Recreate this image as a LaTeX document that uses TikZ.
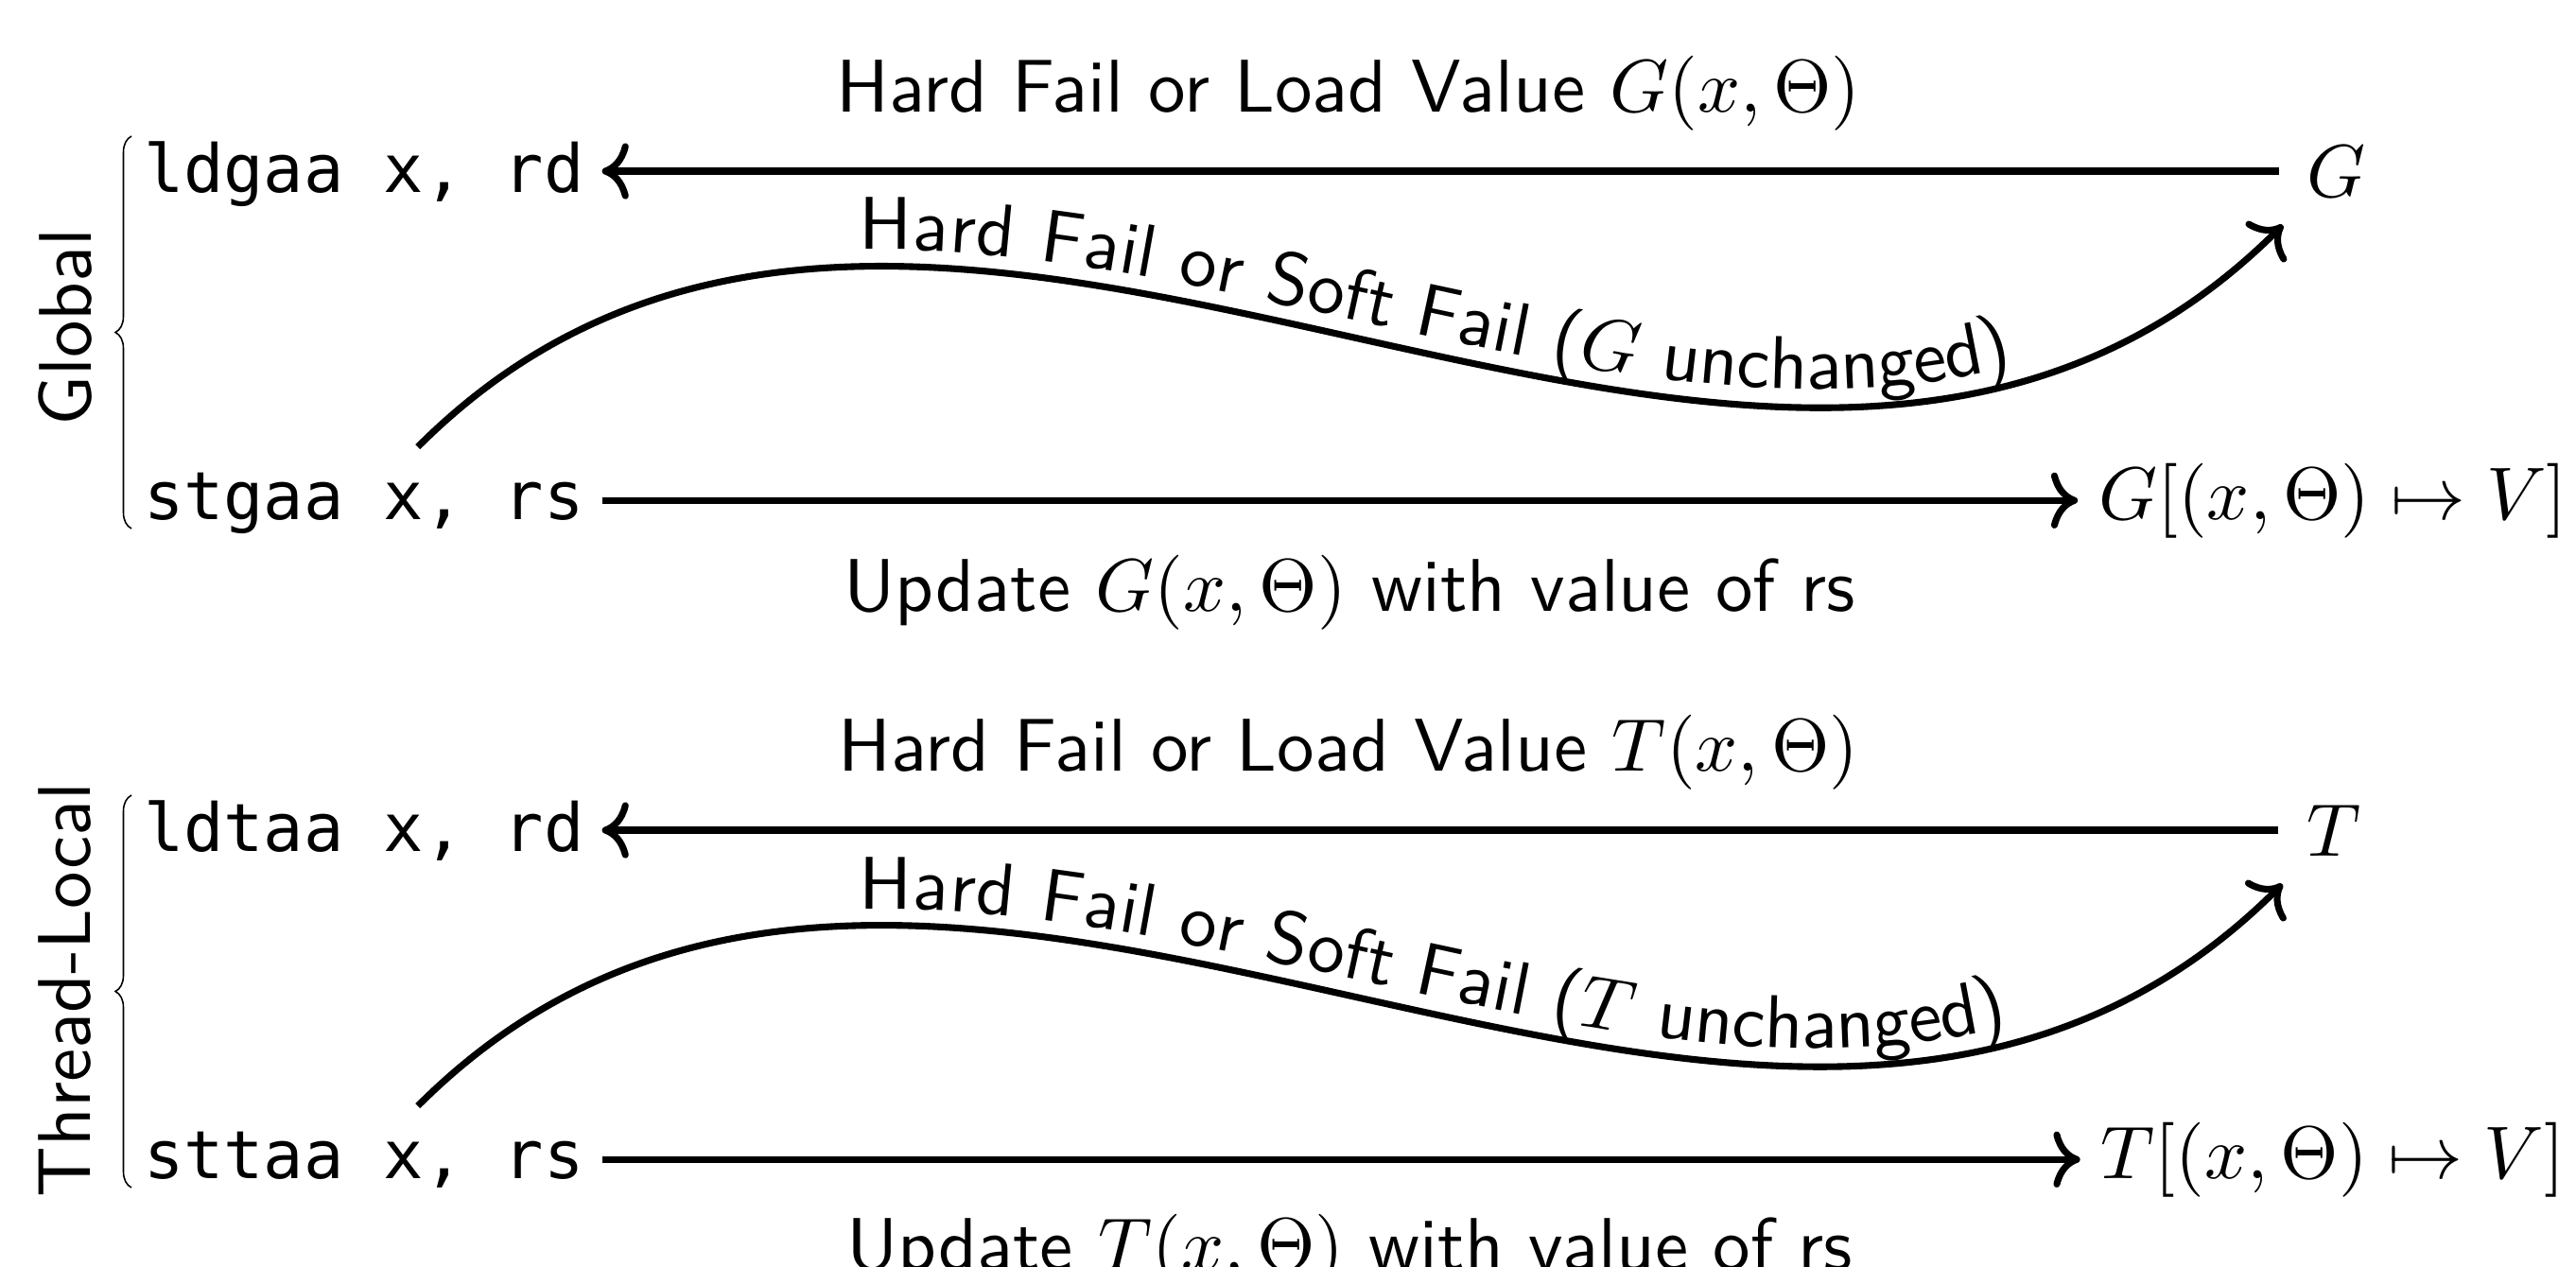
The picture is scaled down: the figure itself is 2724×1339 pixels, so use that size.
\documentclass[tikz,border=0pt]{standalone}
\usepackage{fontspec}
\renewcommand{\familydefault}{\sfdefault}
\newfontfamily\codefont{DejaVu Sans Mono}[Scale=0.89]
\usetikzlibrary{arrows.meta,calc,decorations.text,decorations.pathreplacing}
\begin{document}
\begin{tikzpicture}[x=0.1266pt,y=-0.1266pt,
  every node/.style={inner sep=0pt,outer sep=0pt},
  code/.style={font=\codefont},
  arr/.style={line width=0.9pt,-{Computer Modern Rightarrow}},
  bracestyle/.style={line width=0.2pt,decorate,decoration={brace,amplitude=2.15pt}},
  curvelabel/.style={decorate,decoration={text along path,text={#1},text align={left indent=65.5pt},raise=2.2pt}}]
\useasboundingbox (0,0) rectangle (2724,1339);
% ---------------- Global block
\node[anchor=base] (lbl1) at (1426,118) {Hard Fail or Load Value $G(x,\Theta)$};
\node[code,anchor=base west] (ldg) at (152,203) {ldgaa x, rd};
\node[anchor=base] (G) at (2471,208) {$G$};
\node[code,anchor=base west] (stg) at (152,549) {stgaa x, rs};
\node[anchor=base] (Gu) at (2467,549) {$G[(x,\Theta)\mapsto V]$};
\node[anchor=base] (upd1) at (1427,646) {Update $G(x,\Theta)$ with value of rs};
\node[rotate=90] (glob) at (69,346) {Global};
\draw[arr] ($(G.west)+(-30,0)$) -- ($(G.west -| ldg.east)+(19,0)$);
\draw[arr] ($(stg.east |- Gu.west)+(19,0)$) -- ($(Gu.west)+(-22,0)$);
\draw[arr] ($(stg.north)+(57,-27)$) to[out=45,in=225] ($(G.south west)+(-26,30)$);
\path[curvelabel={Hard Fail or Soft Fail ({$G$} unchanged)}] ($(stg.north)+(57,-27)$) to[out=45,in=225] ($(G.south west)+(-26,30)$);
\draw[bracestyle] ($(stg.base west)+(-13,10)$) -- ($(ldg.base west)+(-13,-59)$);
% ---------------- Thread-Local block
\node[anchor=base] (lbl2) at (1426,815) {Hard Fail or Load Value $T(x,\Theta)$};
\node[code,anchor=base west] (ldt) at (152,900) {ldtaa x, rd};
\node[anchor=base] (T) at (2468,905) {$T$};
\node[code,anchor=base west] (stt) at (152,1246) {sttaa x, rs};
\node[anchor=base] (Tu) at (2467,1246) {$T[(x,\Theta)\mapsto V]$};
\node[anchor=base] (upd2) at (1427,1343) {Update $T(x,\Theta)$ with value of rs};
\node[rotate=90] (thr) at (69,1047) {Thread-Local};
\draw[arr] ($(T.west)+(-30,0)$) -- ($(T.west -| ldt.east)+(19,0)$);
\draw[arr] ($(stt.east |- Tu.west)+(19,0)$) -- ($(Tu.west)+(-22,0)$);
\draw[arr] ($(stt.north)+(57,-27)$) to[out=45,in=225] ($(T.south west)+(-26,30)$);
\path[curvelabel={Hard Fail or Soft Fail ({$T$} unchanged)}] ($(stt.north)+(57,-27)$) to[out=45,in=225] ($(T.south west)+(-26,30)$);
\draw[bracestyle] ($(stt.base west)+(-13,10)$) -- ($(ldt.base west)+(-13,-59)$);
\end{tikzpicture}
\end{document}
